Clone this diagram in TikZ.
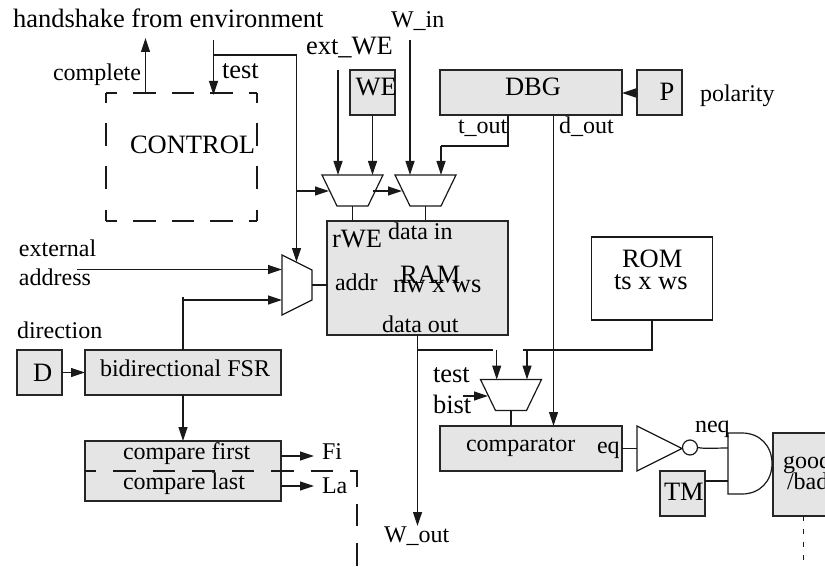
\documentclass[tikz,border=0pt]{standalone}
\usepackage{fontspec}
\setmainfont{Liberation Serif}
\usetikzlibrary{arrows.meta,shapes.geometric}
\tikzset{
  wire/.style={line width=1.2pt,draw=black!90},
  arr/.style={wire,-{Triangle[length=14pt,width=9pt]}},
  blockbox/.style={draw=black!85,line width=1.2pt,fill=black!10,inner sep=0pt,outer sep=0pt},
  plainbox/.style={draw=black!90,line width=1.2pt,inner sep=0pt,outer sep=0pt},
  muxframe/.style={inner sep=0pt,outer sep=0pt,minimum width=61pt,minimum height=31pt},
  txt/.style={inner sep=0pt,outer sep=0pt,anchor=base west,font=\fontsize{24}{28}\selectfont},
  big/.style={inner sep=0pt,outer sep=0pt,anchor=base west,font=\fontsize{26.5}{30}\selectfont},
  ctrldash/.style={wire,dash pattern=on 22.5pt off 16pt,dash phase=11.5pt},
  cmpdash/.style={wire,dash pattern=on 22.5pt off 17pt,dash phase=11.5pt},
  finedash/.style={line width=.9pt,draw=black!90,dash pattern=on 5pt off 8pt}
}
\newcommand{\muxdraw}[1]{\draw[wire] (#1.north west) -- (#1.north east) -- ([xshift=-15pt]#1.south east) -- ([xshift=15pt]#1.south west) -- cycle;}
\begin{document}
\begin{tikzpicture}[x=1pt,y=-1pt]
\useasboundingbox (0,0) rectangle (825,567);
\clip (0,0) rectangle (825,567);
\fill[white] (0,0) rectangle (825,567);

% blocks
\node[inner sep=0pt,outer sep=0pt,minimum width=151pt,minimum height=128pt] (ctrl) at (181.5,157) {};
\node[blockbox,minimum width=45pt,minimum height=45pt] (we) at (372.5,92.5) {};
\node[blockbox,minimum width=182pt,minimum height=45pt] (dbg) at (531,92.5) {};
\node[blockbox,minimum width=45pt,minimum height=45pt] (p) at (659.5,92.5) {};
\node[blockbox,minimum width=181pt,minimum height=114pt] (ram) at (417.5,278) {};
\node[plainbox,minimum width=121pt,minimum height=83pt] (rom) at (652,278.5) {};
\node[blockbox,minimum width=45pt,minimum height=45pt] (d) at (39.5,372.5) {};
\node[blockbox,minimum width=196pt,minimum height=45pt] (fsr) at (183,372.5) {};
\node[blockbox,minimum width=196pt,minimum height=60pt] (cmp) at (183,471) {};
\node[blockbox,minimum width=182pt,minimum height=45pt] (comparator) at (531,448.5) {};
\node[blockbox,minimum width=45pt,minimum height=45pt] (tm) at (682.5,493.5) {};
\node[blockbox,minimum width=70pt,minimum height=83pt] (good) at (808,474.5) {};

% multiplexers
\node[muxframe] (muxa) at (352.5,190.5) {};
\node[muxframe] (muxb) at (425.5,190.5) {};
\node[muxframe] (muxc) at (511,395) {};
\node[muxframe,minimum width=30pt,minimum height=60pt] (muxd) at (297,285) {};
\muxdraw{muxa}
\muxdraw{muxb}
\muxdraw{muxc}
\draw[wire] (muxd.north west) -- ([yshift=-15pt]muxd.north east) -- ([yshift=15pt]muxd.south east) -- (muxd.south west) -- cycle;

% inverter, bubble, and gate
\node[inner sep=0pt,outer sep=0pt,minimum width=45pt,minimum height=45pt] (inv) at (659.5,448.5) {};
\draw[wire] (inv.north west) -- (inv.east) -- (inv.south west) -- cycle;
\node[circle,draw=black!90,line width=1.2pt,fill=white,inner sep=0pt,outer sep=0pt,minimum size=15pt] (bub) at (690,447.5) {};
\draw[wire,fill=white] (728,433) -- (742,433) .. controls (760,433) and (772,446) .. (772,463.5)
  .. controls (772,481) and (760,494) .. (742,494) -- (728,494) -- cycle;
\coordinate (andtop) at (728,448);
\coordinate (andbot) at (728,481);

% free ends
\coordinate (hsout) at (145.5,38);
\coordinate (hsin) at (213.5,40);
\coordinate (testtap) at (213.5,55);
\coordinate (testturn) at (296.5,55);
\coordinate (testbr) at (296.5,191);
\coordinate (muxdin) at (296.5,262);
\coordinate (extin) at (338,70);
\coordinate (win) at (410,40);
\coordinate (extaddr) at (77,269.5);
\coordinate (fsrtop) at (183,297);
\coordinate (tturn) at (508,146);
\coordinate (tdown) at (441,146);
\coordinate (ramdown) at (417.5,350);
\coordinate (ramturn) at (493,350);
\coordinate (cmpa) at (496.7,350);
\coordinate (romturn) at (652,350);
\coordinate (romend) at (523,350);
\coordinate (cmpb) at (527,350);
\coordinate (bistin) at (463,396);
\coordinate (wout) at (417.5,526);
\coordinate (fi) at (314,456);
\coordinate (la) at (314,486);

% dashed control outline
\draw[ctrldash] (ctrl.north west) -- (ctrl.north east);
\draw[ctrldash] (ctrl.south west) -- (ctrl.south east);
\draw[ctrldash,dash phase=12.5pt,dash pattern=on 23pt off 20pt] (ctrl.north west) -- (ctrl.south west);
\draw[ctrldash,dash phase=12.5pt,dash pattern=on 23pt off 20pt] (ctrl.north east) -- (ctrl.south east);

% connectors
\draw[arr] (hsout |- ctrl.north) -- (hsout);
\draw[arr] (hsin) -- ([yshift=-2pt]hsin |- ctrl.north);
\draw[wire] (testtap) -- (testturn);
\draw[arr] (testturn) -- (muxdin);
\draw[arr] (testbr) -- (329,191);
\draw[arr] (extin) -- (extin |- muxa.north);
\draw[arr] (we.south) -- (we.south |- muxa.north);
\draw[arr] (win) -- (win |- muxb.north);
\draw[arr] (373,191) -- (402,191);
\draw[wire] (muxa.south) -- (muxa.south |- ram.north);
\draw[wire] (muxb.south) -- (muxb.south |- ram.north);
\draw[arr] (p.west |- 0,93) -- (dbg.east |- 0,93);
\draw[wire] (tturn |- dbg.south) -- (tturn) -- (tdown);
\draw[arr] (tdown) -- (tdown |- muxb.north);
\draw[arr] (553.5,115) -- (553.5,426);
\draw[arr] (extaddr) -- (282,269.5);
\draw[wire] (fsrtop |- fsr.north) -- (fsrtop);
\draw[arr] (183,300) -- (282,300);
\draw[wire] (muxd.east) -- (muxd.east -| ram.west);
\draw[arr] (d.east) -- (fsr.west);
\draw[arr] (fsr.south) -- (cmp.north);
\draw[arr] (281,456) -- (fi);
\draw[arr] (281,486) -- (la);
\draw[arr] (wout |- ram.south) -- (wout);
\draw[wire] (ramdown) -- (ramturn);
\draw[arr] (cmpa) -- (cmpa |- muxc.north);
\draw[wire] (rom.south) -- (romturn) -- (romend);
\draw[arr] (cmpb) -- (cmpb |- muxc.north);
\draw[arr] (bistin) -- (488,396);
\draw[wire] (muxc.south) -- (muxc.south |- comparator.north);
\draw[wire] (comparator.east) -- (inv.west);
\draw[wire] (bub.east) .. controls (705,449) and (715,448) .. (andtop);
\draw[wire] (tm.east |- andbot) -- (andbot);
\draw[cmpdash] (85,471) -- (357,471) -- (357,567);
\draw[finedash] (803,516) -- (803,567);

% texts
\node[big] (thand) at (13,28) {handshake from environment};
\node[txt] (tcompl) at (53,81) {complete};
\node[big] (ttest) at (222,79) {test};
\node[big] (text) at (306,55) {ext\_WE};
\node[txt] (twin) at (391,28) {W\_in};
\node[big] (twe) at (355.5,96) {WE};
\node[big] (tctrl) at (130,154) {CONTROL};
\node[big] (tdbg) at (505,96) {DBG};
\node[big] (tp) at (659.5,101) {P};
\node[txt] (tpol) at (700,102) {polarity};
\node[txt] (ttout) at (458,134) {t\_out};
\node[txt] (tdout) at (559,134) {d\_out};
\node[big] (trwe) at (332,247) {rWE};
\node[txt] (tdin) at (388,240) {data in};
\node[big] (tram) at (400,283) {RAM};
\node[big] (tnw) at (393,292) {nw x ws};
\node[txt] (taddr) at (335,290) {addr};
\node[txt] (tdatao) at (382,332) {data out};
\node[big] (trom) at (622,267) {ROM};
\node[big] (tts) at (614,289) {ts x ws};
\node[txt] (texta) at (19,256) {external};
\node[txt] (taddress) at (19,285) {address};
\node[txt] (tdir) at (17,338) {direction};
\node[big] (td) at (33,381) {D};
\node[txt] (tfsr) at (100,376) {bidirectional FSR};
\node[txt] (tcf) at (123,459) {compare first};
\node[txt] (tcl) at (123,489) {compare last};
\node[txt] (tfi) at (322,459) {Fi};
\node[txt] (tla) at (322,493) {La};
\node[txt] (twout) at (384,542) {W\_out};
\node[big] (ttest2) at (433,382) {test};
\node[big] (tbist) at (433,413) {bist};
\node[txt] (tcomp) at (466,451) {comparator};
\node[txt] (teq) at (597,453) {eq};
\node[txt] (tneq) at (695,432) {neq};
\node[big] (ttm) at (664,500) {TM};
\node[txt] (tgood) at (783,468) {good};
\node[txt] (tbad) at (787,489) {/bad};
\end{tikzpicture}
\end{document}
